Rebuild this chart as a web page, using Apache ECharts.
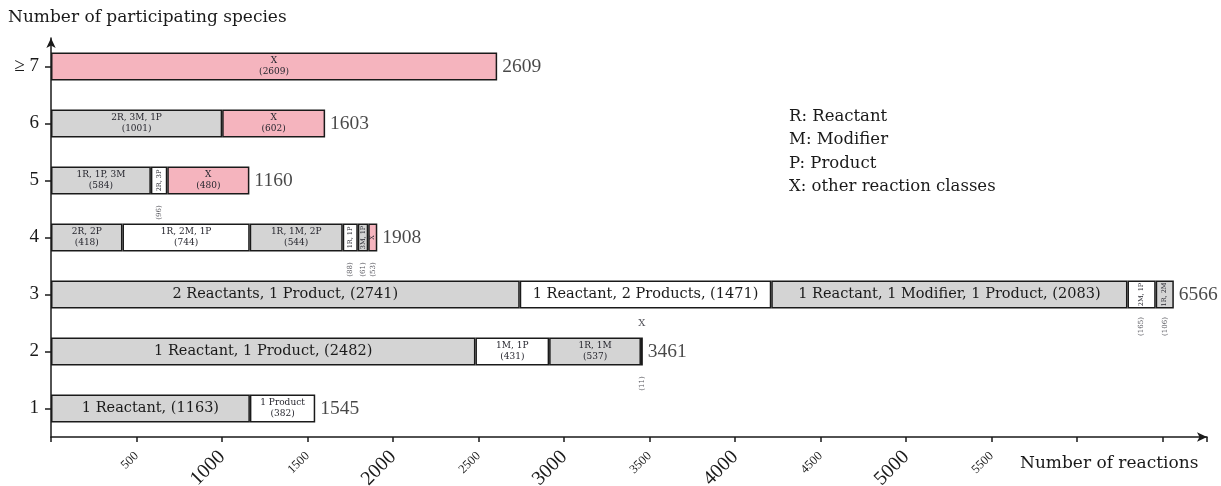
<!DOCTYPE html>
<html>
<head>
<meta charset="utf-8">
<script src="https://cdn.jsdelivr.net/npm/echarts@6/dist/echarts.min.js"></script>
<style>html,body{margin:0;padding:0;background:#fff}#main{width:1221px;height:486px}</style>
</head>
<body>
<div id="main"></div>
<script>
// reaction classes per number of participating species
const categories = ['1', '2', '3', '4', '5', '6', '≥ 7'];
const segNames = [
  ['1 Reactant', '1 Product'],
  ['1 Reactant, 1 Product', '1M, 1P', '1R, 1M', 'X'],
  ['2 Reactants, 1 Product', '1 Reactant, 2 Products', '1 Reactant, 1 Modifier, 1 Product', '2M, 1P', '1R, 2M'],
  ['2R, 2P', '1R, 2M, 1P', '1R, 1M, 2P', '1R, 1P', '3M, 1P', 'X'],
  ['1R, 1P, 3M', '2R, 3P', 'X'],
  ['2R, 3M, 1P', 'X'],
  ['X']
];
const segValues = [
  [1163, 382],
  [2482, 431, 537, 11],
  [2741, 1471, 2083, 165, 106],
  [418, 744, 544, 88, 61, 53],
  [584, 96, 480],
  [1001, 602],
  [2609]
];
const totals = [1545, 3461, 6566, 1908, 1160, 1603, 2609];
const xTickLabels = ['500', '1000', '1500', '2000', '2500', '3000', '3500', '4000', '4500', '5000', '5500'];
const legendLines = ['R: Reactant', 'M: Modifier', 'P: Product', 'X: other reaction classes'];

const GREY = '#d4d4d4', WHITE = '#ffffff', PINK = '#f5b4be';
const FONT = 'Liberation Serif';   // numbers
const WIDE = 'DejaVu Serif';       // words (closer to the wide CM look)
const INK = '#1a1a1a';
const LBL = '#26262e';

var myChart = echarts.init(document.getElementById('main'));

const maxSegs = Math.max(...segValues.map(r => r.length));
const series = [];
for (let j = 0; j < maxSegs; j++) {
  series.push({
    type: 'bar',
    stack: 'all',
    barWidth: 28,
    itemStyle: { borderColor: INK, borderWidth: 1.5 },
    label: { position: 'inside', color: LBL, fontFamily: WIDE },
    data: segValues.map((row, i) => {
      if (j >= row.length) return '-';
      const v = row[j], name = segNames[i][j];
      const color = name === 'X' ? PINK : (j % 2 ? WHITE : GREY);
      let label;
      if (v < 30) label = { show: false };
      else if (v < 200) label = { show: true, rotate: 90, formatter: name, fontSize: 6.5 };
      else if (i < 3 && v >= 1000) label = { show: true, formatter: name + ', (' + v + ')', fontSize: 14.5, color: INK };
      else label = { show: true, formatter: name + '\n(' + v + ')', fontSize: 9, lineHeight: 11 };
      return { value: v, itemStyle: { color: color }, label: label };
    })
  });
}

// values of the thin segments go below the bar, names of the tiniest above
const thinPts = [], tinyPts = [];
segValues.forEach((row, i) => {
  let acc = 0;
  row.forEach((v, j) => {
    if (v < 200) thinPts.push({ value: [acc + v / 2, categories[i]], label: { formatter: '(' + v + ')' } });
    if (v < 30) tinyPts.push({ value: [acc + v / 2, categories[i]], label: { formatter: segNames[i][j] } });
    acc += v;
  });
});

series.push({
  type: 'scatter', symbolSize: 0, silent: true, data: thinPts,
  // offset is applied in the rotated frame: negative x moves the text down
  label: { show: true, position: 'inside', offset: [-32, 0], rotate: 90, fontSize: 7, color: LBL, fontFamily: WIDE }
});
series.push({
  type: 'scatter', symbolSize: 0, silent: true, data: tinyPts,
  label: { show: true, position: 'inside', offset: [0, -28], fontSize: 10, color: LBL, fontFamily: WIDE }
});
series.push({
  type: 'scatter', symbolSize: 0, silent: true,
  data: totals.map((t, i) => [t, categories[i]]),
  label: { show: true, position: 'right', distance: 5, formatter: p => p.value[0], fontSize: 19.5, color: INK, fontFamily: FONT }
});

const legendGraphics = legendLines.map((t, k) => ({
  type: 'text', left: 789, top: 108 + k * 23.5,
  style: { text: t, fontSize: 16.5, fontFamily: WIDE, fill: INK }
}));

myChart.setOption({
  animation: false,
  grid: { left: 51, right: 14, top: 38, bottom: 49, containLabel: false, outerBoundsMode: 'none' },
  xAxis: {
    type: 'value',
    min: 0,
    max: 6760,
    interval: 500,
    splitLine: { show: false },
    axisLine: { show: true, symbol: ['none', 'arrow'], symbolSize: [7, 10], lineStyle: { color: INK, width: 1.5 } },
    axisTick: { show: true, length: 5, lineStyle: { color: INK, width: 1.5 } },
    axisLabel: {
      rotate: 45,
      margin: 17,
      color: INK,
      fontFamily: FONT,
      formatter: function (v) {
        const s = String(v);
        if (xTickLabels.indexOf(s) < 0) return '';
        return v % 1000 === 0 ? '{big|' + s + '}' : '{small|' + s + '}';
      },
      rich: {
        big: { fontSize: 20, fontFamily: FONT, color: INK },
        small: { fontSize: 12.5, fontFamily: FONT, color: INK }
      }
    }
  },
  yAxis: {
    type: 'category',
    data: categories,
    axisLine: { show: true, symbol: ['none', 'arrow'], symbolSize: [7, 10], lineStyle: { color: INK, width: 1.5 } },
    axisTick: { show: true, alignWithLabel: true, length: 6, lineStyle: { color: INK, width: 1.5 } },
    axisLabel: { fontSize: 19, color: INK, margin: 12, fontFamily: FONT },
    splitLine: { show: false }
  },
  graphic: [
    { type: 'text', left: 8, top: 9, style: { text: 'Number of participating species', fontSize: 17, fontFamily: WIDE, fill: INK } },
    { type: 'text', left: 1020, top: 455, style: { text: 'Number of reactions', fontSize: 17, fontFamily: WIDE, fill: INK } }
  ].concat(legendGraphics),
  series: series
});
</script>
</body>
</html>
